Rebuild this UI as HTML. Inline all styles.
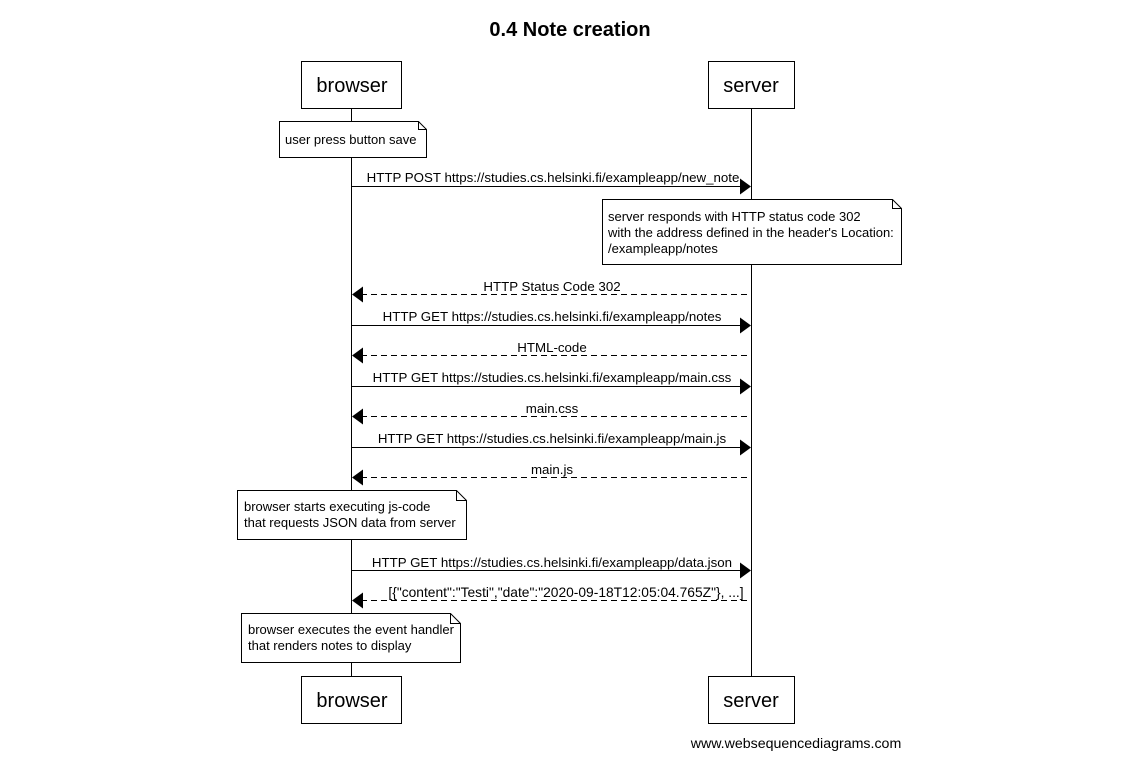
<!DOCTYPE html>
<html><head><style>body{margin:0;background:#fff}svg{display:block}text{font-family:"Liberation Sans",sans-serif;fill:#000}</style></head><body>
<svg width="1135" height="758" viewBox="0 0 1135 758" xmlns="http://www.w3.org/2000/svg">
<text x="570" y="36" font-size="20" font-weight="bold" text-anchor="middle">0.4 Note creation</text>
<g stroke="#000" stroke-width="1" fill="#fff">
<line x1="351.5" y1="108" x2="351.5" y2="676"/>
<line x1="751.5" y1="108" x2="751.5" y2="676"/>
<rect x="301.5" y="61.5" width="100" height="47"/>
<rect x="708.5" y="61.5" width="86" height="47"/>
<rect x="301.5" y="676.5" width="100" height="47"/>
<rect x="708.5" y="676.5" width="86" height="47"/>
<path d="M279.5 121.5H418.5L426.5 129.5V157.5H279.5Z"/><path d="M418.5 121.5V129.5H426.5" fill="none"/>
<path d="M602.5 199.5H892.5L901.5 208.5V264.5H602.5Z"/><path d="M892.5 199.5V208.5H901.5" fill="none"/>
<path d="M237.5 490.5H456.5L466.5 500.5V539.5H237.5Z"/><path d="M456.5 490.5V500.5H466.5" fill="none"/>
<path d="M241.5 613.5H450.5L460.5 623.5V662.5H241.5Z"/><path d="M450.5 613.5V623.5H460.5" fill="none"/>
</g>
<g font-size="20" text-anchor="middle">
<text x="352" y="92">browser</text><text x="751" y="92">server</text>
<text x="352" y="707">browser</text><text x="751" y="707">server</text>
</g>
<g font-size="13">
<text x="285" y="144">user press button save</text>
<text x="608" y="221">server responds with HTTP status code 302</text>
<text x="608" y="237">with the address defined in the header's Location:</text>
<text x="608" y="253">/exampleapp/notes</text>
<text x="244" y="511">browser starts executing js-code</text>
<text x="244" y="527">that requests JSON data from server</text>
<text x="248" y="634">browser executes the event handler</text>
<text x="248" y="650">that renders notes to display</text>
</g>
<g stroke="#000" stroke-width="1">
<line x1="351" y1="186.5" x2="741" y2="186.5"/>
<line x1="361" y1="294.5" x2="751" y2="294.5" stroke-dasharray="6,4"/>
<line x1="351" y1="325.5" x2="741" y2="325.5"/>
<line x1="361" y1="355.5" x2="751" y2="355.5" stroke-dasharray="6,4"/>
<line x1="351" y1="386.5" x2="741" y2="386.5"/>
<line x1="361" y1="416.5" x2="751" y2="416.5" stroke-dasharray="6,4"/>
<line x1="351" y1="447.5" x2="741" y2="447.5"/>
<line x1="361" y1="477.5" x2="751" y2="477.5" stroke-dasharray="6,4"/>
<line x1="351" y1="570.5" x2="741" y2="570.5"/>
<line x1="361" y1="600.5" x2="751" y2="600.5" stroke-dasharray="6,4"/>
</g>
<g fill="#000">
<path d="M751 186.5L740 178.5V194.5Z"/>
<path d="M352 294.5L363 286.5V302.5Z"/>
<path d="M751 325.5L740 317.5V333.5Z"/>
<path d="M352 355.5L363 347.5V363.5Z"/>
<path d="M751 386.5L740 378.5V394.5Z"/>
<path d="M352 416.5L363 408.5V424.5Z"/>
<path d="M751 447.5L740 439.5V455.5Z"/>
<path d="M352 477.5L363 469.5V485.5Z"/>
<path d="M751 570.5L740 562.5V578.5Z"/>
<path d="M352 600.5L363 592.5V608.5Z"/>
</g>
<g font-size="13.3" text-anchor="middle">
<text x="553" y="182">HTTP POST https://studies.cs.helsinki.fi/exampleapp/new_note</text>
<text x="552" y="291">HTTP Status Code 302</text>
<text x="552" y="321">HTTP GET https://studies.cs.helsinki.fi/exampleapp/notes</text>
<text x="552" y="352">HTML-code</text>
<text x="552" y="382">HTTP GET https://studies.cs.helsinki.fi/exampleapp/main.css</text>
<text x="552" y="413">main.css</text>
<text x="552" y="443">HTTP GET https://studies.cs.helsinki.fi/exampleapp/main.js</text>
<text x="552" y="474">main.js</text>
<text x="552" y="567">HTTP GET https://studies.cs.helsinki.fi/exampleapp/data.json</text>
<text x="566" y="597" font-size="13.8">[{"content":"Testi","date":"2020-09-18T12:05:04.765Z"}, ...]</text>
</g>
<text x="796" y="748" font-size="14.2" text-anchor="middle">www.websequencediagrams.com</text>
</svg>
</body></html>
